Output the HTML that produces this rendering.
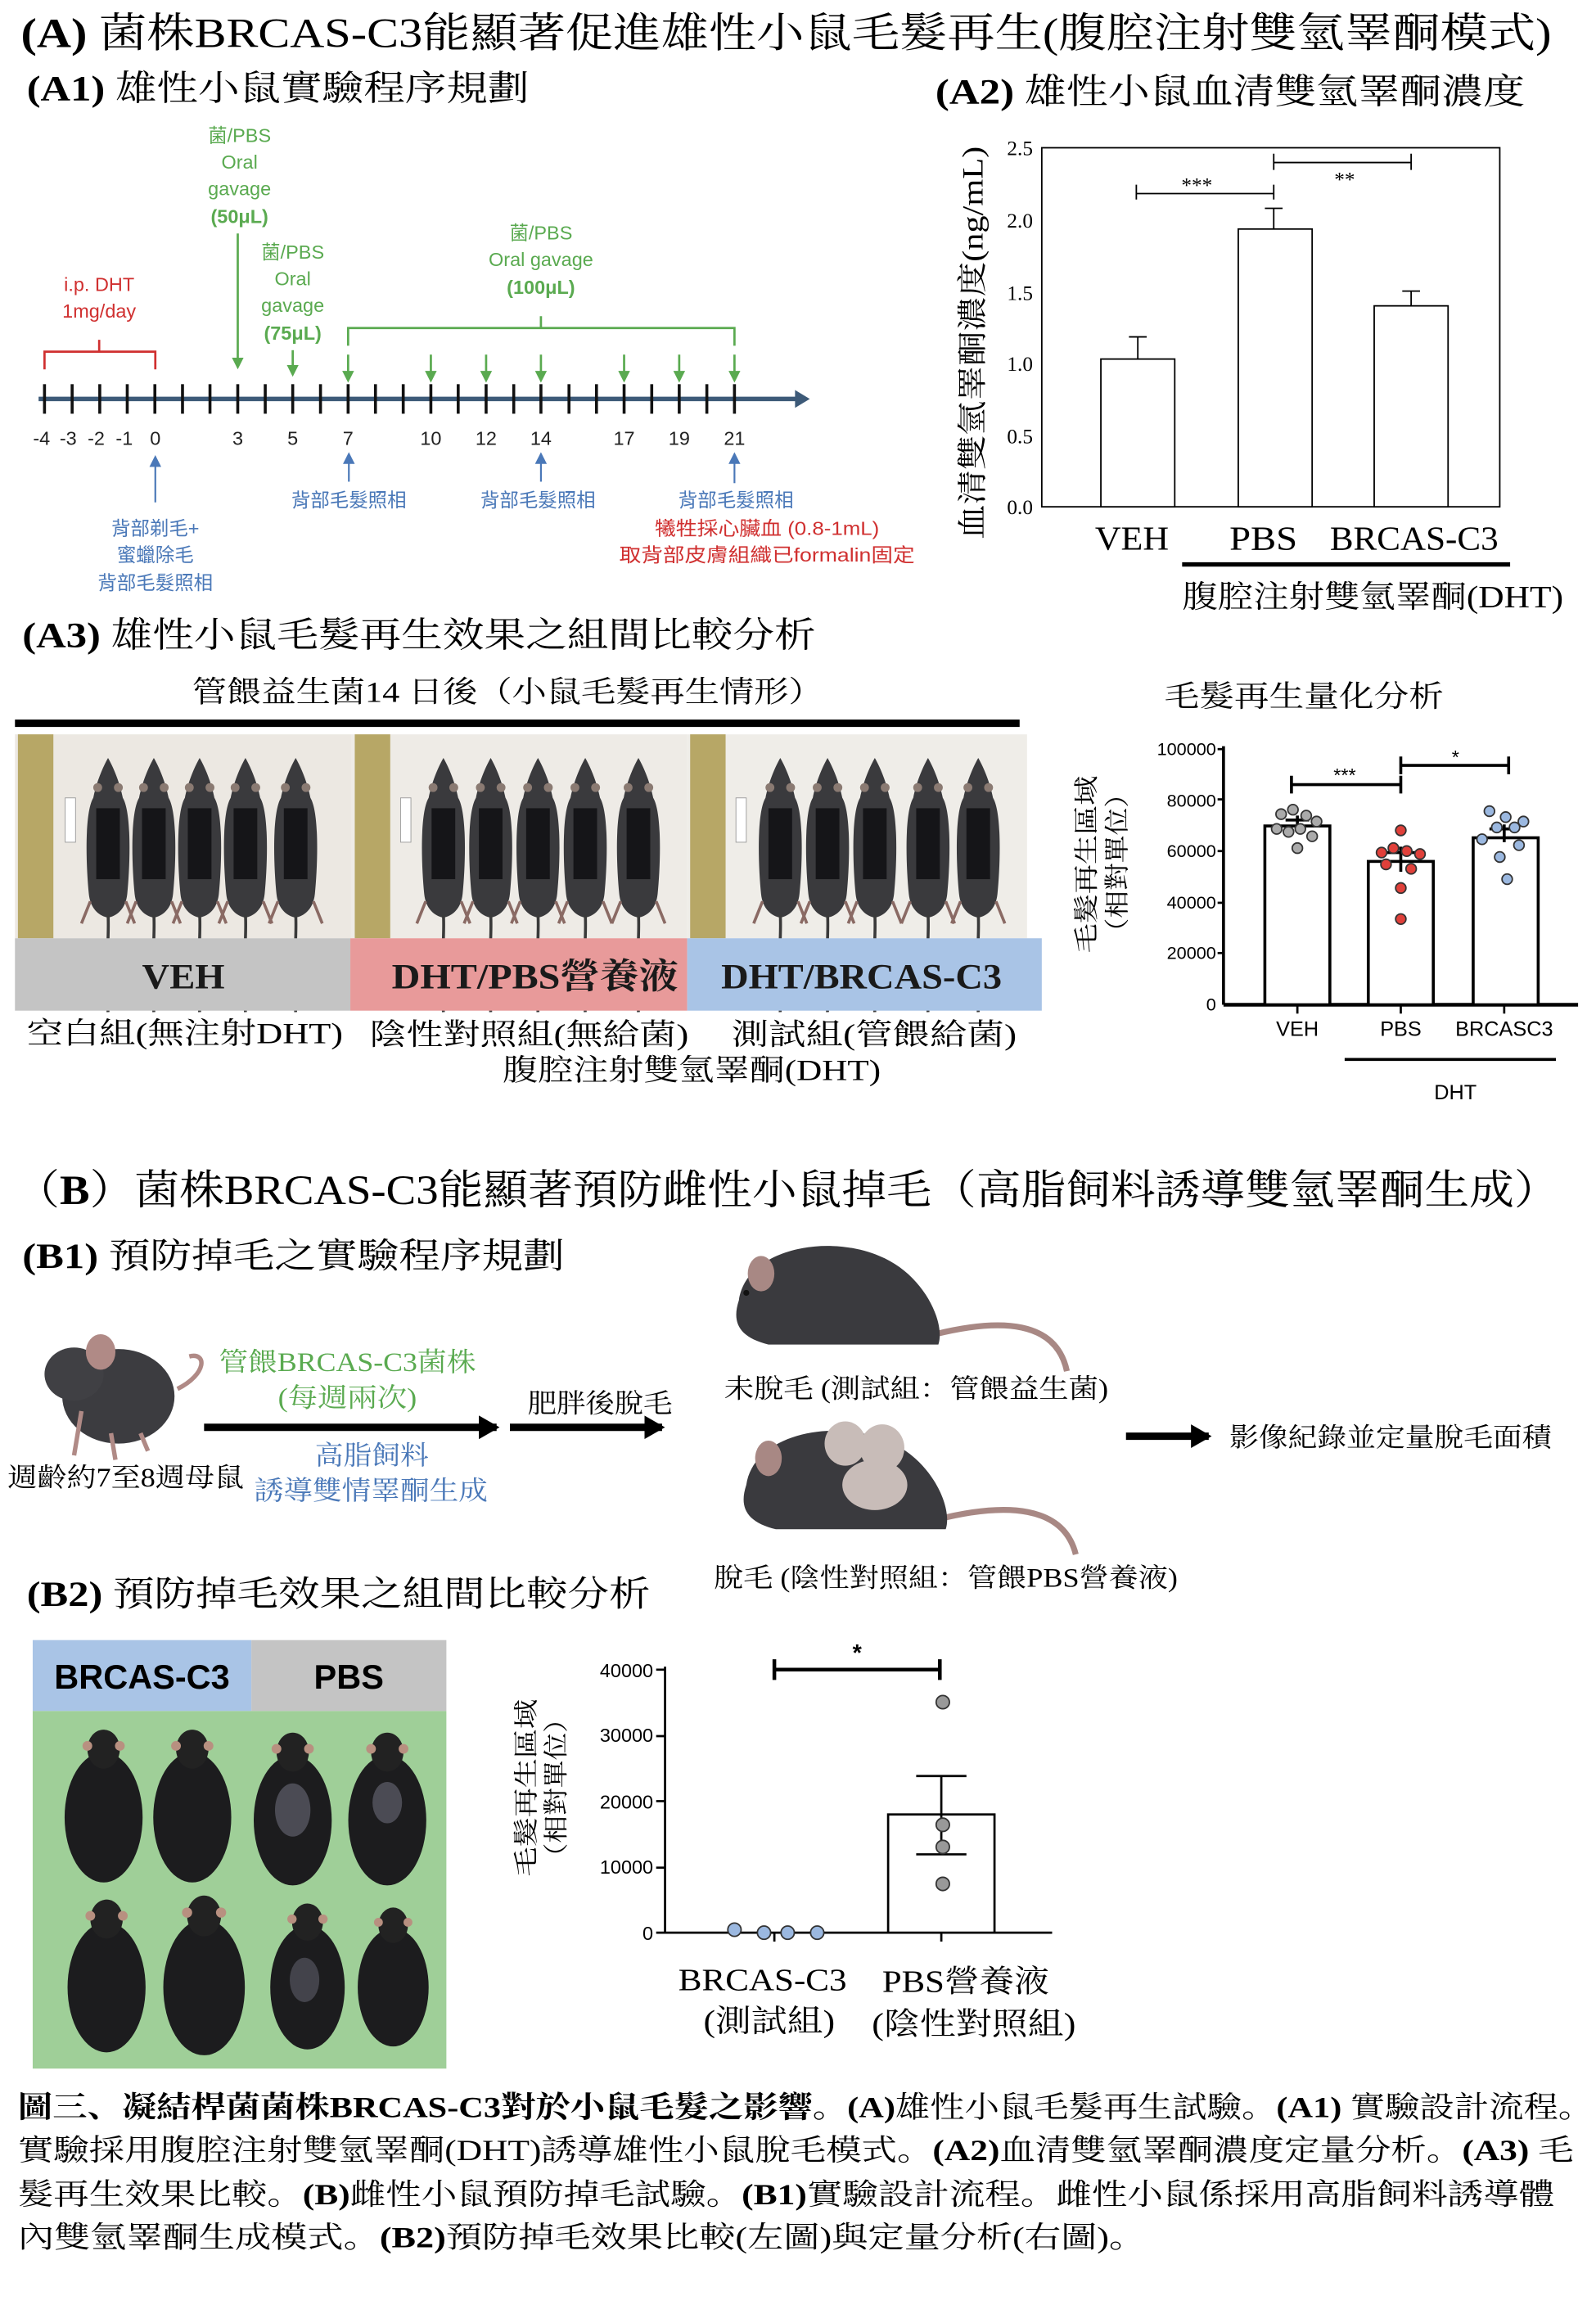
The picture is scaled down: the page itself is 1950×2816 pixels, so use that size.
<!DOCTYPE html>
<html><head><meta charset="utf-8">
<style>
html,body{margin:0;padding:0;background:#fff;}
svg{display:block;}
.s{font-family:"Liberation Serif","Noto Serif CJK SC","Noto Sans CJK TC",serif;}
.n{font-family:"Liberation Sans","Noto Sans CJK TC",sans-serif;}
</style></head>
<body>
<svg width="1950" height="2816" viewBox="0 0 1080 1560" xmlns="http://www.w3.org/2000/svg">
<defs>
<marker id="ag" markerWidth="8" markerHeight="8" refX="4" refY="4" orient="auto" markerUnits="userSpaceOnUse"><path d="M0,0 L8,4 L0,8 Z" fill="#5aaa50"/></marker>
<marker id="ab" markerWidth="8" markerHeight="8" refX="4" refY="4" orient="auto" markerUnits="userSpaceOnUse"><path d="M0,0 L8,4 L0,8 Z" fill="#4a78b8"/></marker>
<marker id="ak" markerWidth="14" markerHeight="16" refX="12" refY="8" orient="auto" markerUnits="userSpaceOnUse"><path d="M0,0 L14,8 L0,16 Z" fill="#000"/></marker>
<g id="topmouse">
 <path d="M0,-62 C4,-55 8,-45 10,-35 C16,-25 15,10 13,30 C12,40 6,45 0,46 C-6,45 -12,40 -13,30 C-15,10 -16,-25 -10,-35 C-8,-45 -4,-55 0,-62Z" fill="#3a3a3d"/>
 <rect x="-8" y="-28" width="16" height="48" fill="#151518"/>
 <circle cx="-7" cy="-42" r="3" fill="#8a7a72"/><circle cx="7" cy="-42" r="3" fill="#8a7a72"/>
 <path d="M0,44 C1,60 -2,75 0,110" stroke="#3a3a3a" stroke-width="2" fill="none"/>
 <path d="M-12,35 L-18,50 M12,35 L18,50" stroke="#8a6a64" stroke-width="2"/>
</g>
<g id="bmouse">
 <ellipse cx="0" cy="0" rx="24" ry="40" fill="#1c1c1e"/>
 <ellipse cx="0" cy="-42" rx="10" ry="12" fill="#222"/>
 <circle cx="-10" cy="-44" r="3" fill="#b89080"/><circle cx="10" cy="-44" r="3" fill="#b89080"/>
</g>
</defs>

<!-- Title A -->
<text x="14" y="32" class="s" font-size="28" fill="#000" textLength="1036" lengthAdjust="spacingAndGlyphs"><tspan font-weight="bold">(A)</tspan> 菌株BRCAS-C3能顯著促進雄性小鼠毛髮再生(腹腔注射雙氫睪酮模式)</text>
<text x="18" y="68" class="s" font-size="24" textLength="340" lengthAdjust="spacingAndGlyphs"><tspan font-weight="bold">(A1)</tspan> 雄性小鼠實驗程序規劃</text>
<text x="633" y="70" class="s" font-size="24" textLength="399" lengthAdjust="spacingAndGlyphs"><tspan font-weight="bold">(A2)</tspan> 雄性小鼠血清雙氫睪酮濃度</text>

<!-- Timeline -->
<g class="n">
<line x1="26" y1="270" x2="540" y2="270" stroke="#3d5a78" stroke-width="3"/>
<path d="M538,264 L548,270 L538,276Z" fill="#3d5a78"/>
<g stroke="#111" stroke-width="2">
<line x1="30" y1="260" x2="30" y2="280"/><line x1="48.7" y1="260" x2="48.7" y2="280"/><line x1="67.4" y1="260" x2="67.4" y2="280"/><line x1="86" y1="260" x2="86" y2="280"/><line x1="104.7" y1="260" x2="104.7" y2="280"/><line x1="123.4" y1="260" x2="123.4" y2="280"/><line x1="142" y1="260" x2="142" y2="280"/><line x1="160.8" y1="260" x2="160.8" y2="280"/><line x1="179.4" y1="260" x2="179.4" y2="280"/><line x1="198" y1="260" x2="198" y2="280"/><line x1="216.8" y1="260" x2="216.8" y2="280"/><line x1="235.5" y1="260" x2="235.5" y2="280"/><line x1="254" y1="260" x2="254" y2="280"/><line x1="272.8" y1="260" x2="272.8" y2="280"/><line x1="291.5" y1="260" x2="291.5" y2="280"/><line x1="310" y1="260" x2="310" y2="280"/><line x1="328.9" y1="260" x2="328.9" y2="280"/><line x1="347.6" y1="260" x2="347.6" y2="280"/><line x1="366" y1="260" x2="366" y2="280"/><line x1="385" y1="260" x2="385" y2="280"/><line x1="403.6" y1="260" x2="403.6" y2="280"/><line x1="422.3" y1="260" x2="422.3" y2="280"/><line x1="441" y1="260" x2="441" y2="280"/><line x1="459.6" y1="260" x2="459.6" y2="280"/><line x1="478.3" y1="260" x2="478.3" y2="280"/><line x1="497" y1="260" x2="497" y2="280"/>
</g>
<g font-size="13" text-anchor="middle" fill="#222">
<text x="28" y="301">-4</text><text x="46" y="301">-3</text><text x="65" y="301">-2</text><text x="84" y="301">-1</text><text x="105" y="301">0</text><text x="160.8" y="301">3</text><text x="198" y="301">5</text><text x="235.5" y="301">7</text><text x="291.5" y="301">10</text><text x="328.9" y="301">12</text><text x="366" y="301">14</text><text x="422.3" y="301">17</text><text x="459.6" y="301">19</text><text x="497" y="301">21</text>
</g>
<path d="M30,250 L30,238 L105,238 L105,250 M67,238 L67,230" stroke="#d03030" stroke-width="1.5" fill="none"/>
<text x="67" y="197" font-size="13" fill="#d03030" text-anchor="middle">i.p. DHT</text>
<text x="67" y="215" font-size="13" fill="#d03030" text-anchor="middle">1mg/day</text>
<g fill="#5aaa50" font-size="13" text-anchor="middle">
<text x="162" y="96">菌/PBS</text><text x="162" y="114">Oral</text><text x="162" y="132">gavage</text><text x="162" y="151" font-weight="bold">(50μL)</text>
<text x="198" y="175">菌/PBS</text><text x="198" y="193">Oral</text><text x="198" y="211">gavage</text><text x="198" y="230" font-weight="bold">(75μL)</text>
<text x="366" y="162">菌/PBS</text><text x="366" y="180">Oral gavage</text><text x="366" y="199" font-weight="bold">(100μL)</text>
</g>
<g stroke="#5aaa50" stroke-width="1.5" fill="none">
<line x1="160.8" y1="158" x2="160.8" y2="246" marker-end="url(#ag)"/>
<line x1="198" y1="237" x2="198" y2="251" marker-end="url(#ag)"/>
<path d="M235.5,234 L235.5,222 L497,222 L497,234 M366,222 L366,214"/>
<line x1="235.5" y1="240" x2="235.5" y2="255" marker-end="url(#ag)"/>
<line x1="291.5" y1="240" x2="291.5" y2="255" marker-end="url(#ag)"/>
<line x1="328.9" y1="240" x2="328.9" y2="255" marker-end="url(#ag)"/>
<line x1="366" y1="240" x2="366" y2="255" marker-end="url(#ag)"/>
<line x1="422.3" y1="240" x2="422.3" y2="255" marker-end="url(#ag)"/>
<line x1="459.6" y1="240" x2="459.6" y2="255" marker-end="url(#ag)"/>
<line x1="497" y1="240" x2="497" y2="255" marker-end="url(#ag)"/>
</g>
<g stroke="#4a78b8" stroke-width="1.2" fill="none">
<line x1="105" y1="340" x2="105" y2="312" marker-end="url(#ab)"/>
<line x1="236" y1="326" x2="236" y2="310" marker-end="url(#ab)"/>
<line x1="366" y1="326" x2="366" y2="310" marker-end="url(#ab)"/>
<line x1="497" y1="327" x2="497" y2="310" marker-end="url(#ab)"/>
</g>
<g fill="#4a78b8" font-size="13" text-anchor="middle">
<text x="105" y="362">背部剃毛+</text><text x="105" y="380">蜜蠟除毛</text><text x="105" y="399">背部毛髮照相</text>
<text x="236" y="343">背部毛髮照相</text><text x="364" y="343">背部毛髮照相</text><text x="498" y="343">背部毛髮照相</text>
</g>
<g fill="#d03030" font-size="13">
<text x="443" y="362" textLength="152" lengthAdjust="spacingAndGlyphs">犧牲採心臟血 (0.8-1mL)</text><text x="419" y="380" textLength="200" lengthAdjust="spacingAndGlyphs">取背部皮膚組織已formalin固定</text>
</g>
</g>

<!-- A2 chart -->
<g class="s">
<rect x="705" y="100" width="310" height="243" fill="none" stroke="#000" stroke-width="1"/>
<g font-size="14" text-anchor="end">
<text x="699" y="105">2.5</text><text x="699" y="154">2.0</text><text x="699" y="203">1.5</text><text x="699" y="251">1.0</text><text x="699" y="300">0.5</text><text x="699" y="348">0.0</text>
</g>
<g stroke="#000" stroke-width="1" fill="#fff">
<line x1="770" y1="243" x2="770" y2="228"/><line x1="764" y1="228" x2="776" y2="228"/>
<line x1="862" y1="155" x2="862" y2="141"/><line x1="856" y1="141" x2="868" y2="141"/>
<line x1="955" y1="207" x2="955" y2="197"/><line x1="949" y1="197" x2="961" y2="197"/>
<rect x="745" y="243" width="50" height="100"/>
<rect x="838" y="155" width="50" height="188"/>
<rect x="930" y="207" width="50" height="136"/>
<path d="M769,125 L769,135 M769,131 L862,131 M862,125 L862,135"/>
<path d="M862,104 L862,115 M862,110 L955,110 M955,104 L955,115"/>
</g>
<text x="810" y="130" font-size="14" text-anchor="middle">***</text>
<text x="910" y="126" font-size="14" text-anchor="middle">**</text>
<g font-size="23">
<text x="741" y="372" textLength="50" lengthAdjust="spacingAndGlyphs">VEH</text><text x="832" y="372" textLength="46" lengthAdjust="spacingAndGlyphs">PBS</text><text x="900" y="372" textLength="114" lengthAdjust="spacingAndGlyphs">BRCAS-C3</text>
</g>
<line x1="800" y1="382" x2="1022" y2="382" stroke="#000" stroke-width="3"/>
<text x="800" y="411" font-size="21" textLength="258" lengthAdjust="spacingAndGlyphs">腹腔注射雙氫睪酮(DHT)</text>
<text transform="translate(665,365) rotate(-90)" font-size="20" textLength="266" lengthAdjust="spacingAndGlyphs">血清雙氫睪酮濃度(ng/mL)</text>
</g>

<!-- A3 -->
<text x="15" y="438" class="s" font-size="24" textLength="537" lengthAdjust="spacingAndGlyphs"><tspan font-weight="bold">(A3)</tspan> 雄性小鼠毛髮再生效果之組間比較分析</text>
<text x="130" y="475" class="s" font-size="20" textLength="427" lengthAdjust="spacingAndGlyphs">管餵益生菌14 日後（小鼠毛髮再生情形）</text>
<rect x="10" y="487" width="680" height="5" fill="#000"/>
<rect x="10" y="497" width="228" height="138" fill="#ece8e2"/>
<rect x="238" y="497" width="227" height="138" fill="#eeebe6"/>
<rect x="465" y="497" width="230" height="138" fill="#efede8"/>
<rect x="12" y="497" width="24" height="138" fill="#b7a766"/>
<rect x="240" y="497" width="24" height="138" fill="#b7a766"/>
<rect x="467" y="497" width="24" height="138" fill="#b7a766"/>
<rect x="44" y="540" width="7" height="30" fill="#fff" stroke="#999" stroke-width="0.5"/>
<rect x="271" y="540" width="7" height="30" fill="#fff" stroke="#999" stroke-width="0.5"/>
<rect x="498" y="540" width="7" height="30" fill="#fff" stroke="#999" stroke-width="0.5"/>
<g>
<use href="#topmouse" transform="translate(73,575)"/><use href="#topmouse" transform="translate(104,575)"/><use href="#topmouse" transform="translate(135,575)"/><use href="#topmouse" transform="translate(166,575)"/><use href="#topmouse" transform="translate(200,575)"/>
<use href="#topmouse" transform="translate(300,575)"/><use href="#topmouse" transform="translate(332,575)"/><use href="#topmouse" transform="translate(364,575)"/><use href="#topmouse" transform="translate(396,575)"/><use href="#topmouse" transform="translate(432,575)"/>
<use href="#topmouse" transform="translate(528,575)"/><use href="#topmouse" transform="translate(560,575)"/><use href="#topmouse" transform="translate(592,575)"/><use href="#topmouse" transform="translate(628,575)"/><use href="#topmouse" transform="translate(662,575)"/>
</g>
<rect x="10" y="635" width="227" height="49" fill="#c4c4c4"/>
<rect x="237" y="635" width="228" height="49" fill="#e89a9a"/>
<rect x="465" y="635" width="240" height="49" fill="#a9c4e6"/>
<g class="s" font-size="24" font-weight="bold" fill="#1a1a1a">
<text x="96" y="669" textLength="56" lengthAdjust="spacingAndGlyphs">VEH</text><text x="265" y="669" textLength="194" lengthAdjust="spacingAndGlyphs">DHT/PBS營養液</text><text x="488" y="669" textLength="190" lengthAdjust="spacingAndGlyphs">DHT/BRCAS-C3</text>
</g>
<g class="s" font-size="20">
<text x="18" y="706" textLength="214" lengthAdjust="spacingAndGlyphs">空白組(無注射DHT)</text><text x="250" y="707" textLength="216" lengthAdjust="spacingAndGlyphs">陰性對照組(無給菌)</text><text x="495" y="707" textLength="193" lengthAdjust="spacingAndGlyphs">測試組(管餵給菌)</text>
<text x="340" y="731" textLength="256" lengthAdjust="spacingAndGlyphs">腹腔注射雙氫睪酮(DHT)</text>
<text x="788" y="478" textLength="189" lengthAdjust="spacingAndGlyphs">毛髮再生量化分析</text>
</g>
<!-- A3 chart -->
<g class="n">
<line x1="828" y1="505" x2="828" y2="680" stroke="#000" stroke-width="2"/>
<line x1="828" y1="680" x2="1068" y2="680" stroke="#000" stroke-width="2.5"/>
<g font-size="12" text-anchor="end">
<text x="823" y="511">100000</text><text x="823" y="546">80000</text><text x="823" y="580">60000</text><text x="823" y="615">40000</text><text x="823" y="649">20000</text><text x="823" y="684">0</text>
</g>
<g stroke="#000" stroke-width="1.5">
<line x1="824" y1="507" x2="828" y2="507"/><line x1="824" y1="541" x2="828" y2="541"/><line x1="824" y1="576" x2="828" y2="576"/><line x1="824" y1="611" x2="828" y2="611"/><line x1="824" y1="645" x2="828" y2="645"/>
<line x1="878" y1="680" x2="878" y2="686"/><line x1="948" y1="680" x2="948" y2="686"/><line x1="1018" y1="680" x2="1018" y2="686"/>
</g>
<g stroke="#000" stroke-width="2" fill="#fff">
<rect x="856" y="559" width="44" height="121"/>
<rect x="926" y="583" width="44" height="97"/>
<rect x="997" y="567" width="44" height="113"/>
<path d="M874,525 L874,537 M874,531 L948,531 M948,525 L948,537"/>
<path d="M948,512 L948,524 M948,518 L1021,518 M1021,512 L1021,524"/>
<path d="M870,555 L886,555 M878,552 L878,562 M938,577 L958,577 M948,573 L948,590 M1008,561 L1028,561 M1018,558 L1018,570"/>
</g>
<g fill="#aaa" stroke="#333" stroke-width="1">
<circle cx="867" cy="551" r="3.5"/><circle cx="875" cy="548" r="3.5"/><circle cx="884" cy="552" r="3.5"/><circle cx="891" cy="556" r="3.5"/><circle cx="864" cy="561" r="3.5"/><circle cx="872" cy="563" r="3.5"/><circle cx="880" cy="561" r="3.5"/><circle cx="888" cy="566" r="3.5"/><circle cx="878" cy="574" r="3.5"/>
</g>
<g fill="#e0403a" stroke="#333" stroke-width="1">
<circle cx="948" cy="562" r="3.5"/><circle cx="935" cy="577" r="3.5"/><circle cx="943" cy="574" r="3.5"/><circle cx="952" cy="576" r="3.5"/><circle cx="961" cy="578" r="3.5"/><circle cx="938" cy="585" r="3.5"/><circle cx="955" cy="588" r="3.5"/><circle cx="948" cy="601" r="3.5"/><circle cx="948" cy="622" r="3.5"/>
</g>
<g fill="#9bb8e0" stroke="#333" stroke-width="1">
<circle cx="1008" cy="549" r="3.5"/><circle cx="1019" cy="553" r="3.5"/><circle cx="1031" cy="556" r="3.5"/><circle cx="1013" cy="560" r="3.5"/><circle cx="1025" cy="560" r="3.5"/><circle cx="1003" cy="568" r="3.5"/><circle cx="1028" cy="572" r="3.5"/><circle cx="1015" cy="580" r="3.5"/><circle cx="1020" cy="595" r="3.5"/>
</g>
<text x="910" y="529" font-size="13" text-anchor="middle">***</text>
<text x="985" y="517" font-size="13" text-anchor="middle">*</text>
<g font-size="14" text-anchor="middle">
<text x="878" y="701">VEH</text><text x="948" y="701">PBS</text><text x="1018" y="701">BRCASC3</text>
<text x="985" y="744">DHT</text>
</g>
<line x1="910" y1="717" x2="1053" y2="717" stroke="#000" stroke-width="2"/>
</g>
<g class="s" font-size="17">
<text transform="translate(741,645) rotate(-90)" textLength="120" lengthAdjust="spacingAndGlyphs">毛髮再生區域</text>
<text transform="translate(762,640) rotate(-90)" textLength="112" lengthAdjust="spacingAndGlyphs">（相對單位）</text>
</g>

<!-- B -->
<text x="10" y="815" class="s" font-size="28" textLength="1045" lengthAdjust="spacingAndGlyphs">（<tspan font-weight="bold">B</tspan>）菌株BRCAS-C3能顯著預防雌性小鼠掉毛（高脂飼料誘導雙氫睪酮生成）</text>
<text x="15" y="858" class="s" font-size="24" textLength="367" lengthAdjust="spacingAndGlyphs"><tspan font-weight="bold">(B1)</tspan> 預防掉毛之實驗程序規劃</text>
<g>
<path d="M120,940 C140,930 140,915 128,918" stroke="#b08a86" stroke-width="3" fill="none"/>
<ellipse cx="80" cy="945" rx="38" ry="32" fill="#3c3c40"/>
<ellipse cx="50" cy="930" rx="20" ry="18" fill="#404044"/>
<ellipse cx="68" cy="915" rx="10" ry="12" fill="#b08a86"/>
<path d="M55,955 L50,985 M75,970 L78,988 M95,970 L100,982" stroke="#b08a86" stroke-width="3"/>
</g>
<g class="s" font-size="18">
<text x="148" y="928" fill="#5aaa50" textLength="174" lengthAdjust="spacingAndGlyphs">管餵BRCAS-C3菌株</text>
<text x="188" y="952" fill="#5aaa50" textLength="94" lengthAdjust="spacingAndGlyphs">(每週兩次)</text>
<text x="213" y="991" fill="#4a78b8" textLength="77" lengthAdjust="spacingAndGlyphs">高脂飼料</text>
<text x="172" y="1015" fill="#4a78b8" textLength="158" lengthAdjust="spacingAndGlyphs">誘導雙情睪酮生成</text>
<text x="5" y="1006" fill="#000" textLength="160" lengthAdjust="spacingAndGlyphs">週齡約7至8週母鼠</text>
<text x="357" y="956" textLength="98" lengthAdjust="spacingAndGlyphs">肥胖後脫毛</text>
<text x="490" y="946" textLength="260" lengthAdjust="spacingAndGlyphs">未脫毛 (測試組：管餵益生菌)</text>
<text x="483" y="1074" textLength="314" lengthAdjust="spacingAndGlyphs">脫毛 (陰性對照組：管餵PBS營養液)</text>
<text x="832" y="979" textLength="218" lengthAdjust="spacingAndGlyphs">影像紀錄並定量脫毛面積</text>
</g>
<line x1="138" y1="966" x2="336" y2="966" stroke="#000" stroke-width="5" marker-end="url(#ak)"/>
<line x1="345" y1="966" x2="448" y2="966" stroke="#000" stroke-width="5" marker-end="url(#ak)"/>
<line x1="762" y1="972" x2="818" y2="972" stroke="#000" stroke-width="5" marker-end="url(#ak)"/>
<g>
<path d="M625,905 C680,890 715,895 722,928" stroke="#a88884" stroke-width="4" fill="none"/>
<path d="M500,880 C505,845 560,835 595,850 C625,862 640,895 635,910 L520,910 C500,905 495,895 500,880Z" fill="#3a3a3e"/>
<ellipse cx="515" cy="862" rx="9" ry="12" fill="#a88884"/>
<circle cx="505" cy="875" r="2" fill="#111"/>
</g>
<g>
<path d="M628,1030 C683,1015 720,1020 728,1052" stroke="#a88884" stroke-width="4" fill="none"/>
<path d="M505,1005 C510,970 565,960 600,975 C630,987 645,1020 640,1035 L525,1035 C505,1030 500,1020 505,1005Z" fill="#3a3a3e"/>
<ellipse cx="520" cy="987" rx="9" ry="12" fill="#a88884"/>
<ellipse cx="572" cy="977" rx="14" ry="15" fill="#c8bcb8"/><ellipse cx="597" cy="980" rx="15" ry="16" fill="#c8bcb8"/><ellipse cx="592" cy="1005" rx="22" ry="17" fill="#c8bcb8"/>
</g>

<!-- B2 -->
<text x="18" y="1087" class="s" font-size="24" textLength="422" lengthAdjust="spacingAndGlyphs"><tspan font-weight="bold">(B2)</tspan> 預防掉毛效果之組間比較分析</text>
<rect x="22" y="1110" width="148" height="48" fill="#a9c4e6"/>
<rect x="170" y="1110" width="132" height="48" fill="#c4c4c4"/>
<g class="n" font-size="23" font-weight="bold" text-anchor="middle">
<text x="96" y="1143">BRCAS-C3</text><text x="236" y="1143">PBS</text>
</g>
<rect x="22" y="1158" width="280" height="242" fill="#9fcf98"/>
<use href="#bmouse" transform="translate(70,1230) scale(1.1)"/>
<use href="#bmouse" transform="translate(130,1230) scale(1.1)"/>
<use href="#bmouse" transform="translate(198,1232) scale(1.1)"/>
<use href="#bmouse" transform="translate(262,1232) scale(1.1)"/>
<use href="#bmouse" transform="translate(72,1345) scale(1.1)"/>
<use href="#bmouse" transform="translate(138,1345) scale(1.15)"/>
<use href="#bmouse" transform="translate(208,1345) scale(1.05)"/>
<use href="#bmouse" transform="translate(266,1345) scale(1.0)"/>
<ellipse cx="198" cy="1225" rx="12" ry="18" fill="#6a6a78" opacity="0.6"/>
<ellipse cx="262" cy="1220" rx="10" ry="14" fill="#6a6a78" opacity="0.6"/>
<ellipse cx="206" cy="1340" rx="10" ry="15" fill="#6a6a78" opacity="0.5"/>
<g class="n">
<line x1="450" y1="1128" x2="450" y2="1308" stroke="#000" stroke-width="1.5"/>
<line x1="450" y1="1308" x2="712" y2="1308" stroke="#000" stroke-width="1.5"/>
<g font-size="13" text-anchor="end">
<text x="442" y="1135">40000</text><text x="442" y="1179">30000</text><text x="442" y="1224">20000</text><text x="442" y="1268">10000</text><text x="442" y="1313">0</text>
</g>
<g stroke="#000" stroke-width="1.5" fill="#fff">
<path d="M444,1130 L450,1130 M444,1175 L450,1175 M444,1219 L450,1219 M444,1264 L450,1264 M444,1308 L450,1308 M524,1308 L524,1314 M637,1308 L637,1314"/>
<rect x="601" y="1228" width="72" height="80"/>
<path d="M637,1202 L637,1255 M620,1202 L654,1202 M620,1255 L654,1255"/>
<path d="M524,1123 L524,1137 M524,1130 L636,1130 M636,1123 L636,1137" stroke-width="2.5"/>
</g>
<g fill="#999" stroke="#333" stroke-width="1">
<circle cx="638" cy="1152" r="4.5"/><circle cx="638" cy="1235" r="4.5"/><circle cx="638" cy="1250" r="4.5"/><circle cx="638" cy="1275" r="4.5"/>
</g>
<g fill="#9bb8e0" stroke="#333" stroke-width="1">
<circle cx="497" cy="1306" r="4.5"/><circle cx="517" cy="1308" r="4.5"/><circle cx="533" cy="1308" r="4.5"/><circle cx="553" cy="1308" r="4.5"/>
</g>
<text x="580" y="1124" font-size="16" font-weight="bold" text-anchor="middle">*</text>
</g>
<g class="s" font-size="17">
<text transform="translate(362,1270) rotate(-90)" textLength="120" lengthAdjust="spacingAndGlyphs">毛髮再生區域</text>
<text transform="translate(382,1266) rotate(-90)" textLength="112" lengthAdjust="spacingAndGlyphs">（相對單位）</text>
</g>
<g class="s" font-size="21">
<text x="459" y="1347" textLength="114" lengthAdjust="spacingAndGlyphs">BRCAS-C3</text><text x="476" y="1375" textLength="89" lengthAdjust="spacingAndGlyphs">(測試組)</text>
<text x="597" y="1348" textLength="113" lengthAdjust="spacingAndGlyphs">PBS營養液</text><text x="590" y="1377" textLength="138" lengthAdjust="spacingAndGlyphs">(陰性對照組)</text>
</g>

<!-- Caption -->
<g class="s" font-size="20">
<text x="12" y="1433" textLength="1066" lengthAdjust="spacingAndGlyphs"><tspan font-weight="bold">圖三、凝結桿菌菌株BRCAS-C3對於小鼠毛髮之影響。(A)</tspan>雄性小鼠毛髮再生試驗。<tspan font-weight="bold">(A1)</tspan> 實驗設計流程。</text>
<text x="12" y="1462" textLength="1053" lengthAdjust="spacingAndGlyphs">實驗採用腹腔注射雙氫睪酮(DHT)誘導雄性小鼠脫毛模式。<tspan font-weight="bold">(A2)</tspan>血清雙氫睪酮濃度定量分析。<tspan font-weight="bold">(A3)</tspan> 毛</text>
<text x="12" y="1492" textLength="1040" lengthAdjust="spacingAndGlyphs">髮再生效果比較。<tspan font-weight="bold">(B)</tspan>雌性小鼠預防掉毛試驗。<tspan font-weight="bold">(B1)</tspan>實驗設計流程。雌性小鼠係採用高脂飼料誘導體</text>
<text x="12" y="1521" textLength="763" lengthAdjust="spacingAndGlyphs">內雙氫睪酮生成模式。<tspan font-weight="bold">(B2)</tspan>預防掉毛效果比較(左圖)與定量分析(右圖)。</text>
</g>
</svg>
</body></html>
